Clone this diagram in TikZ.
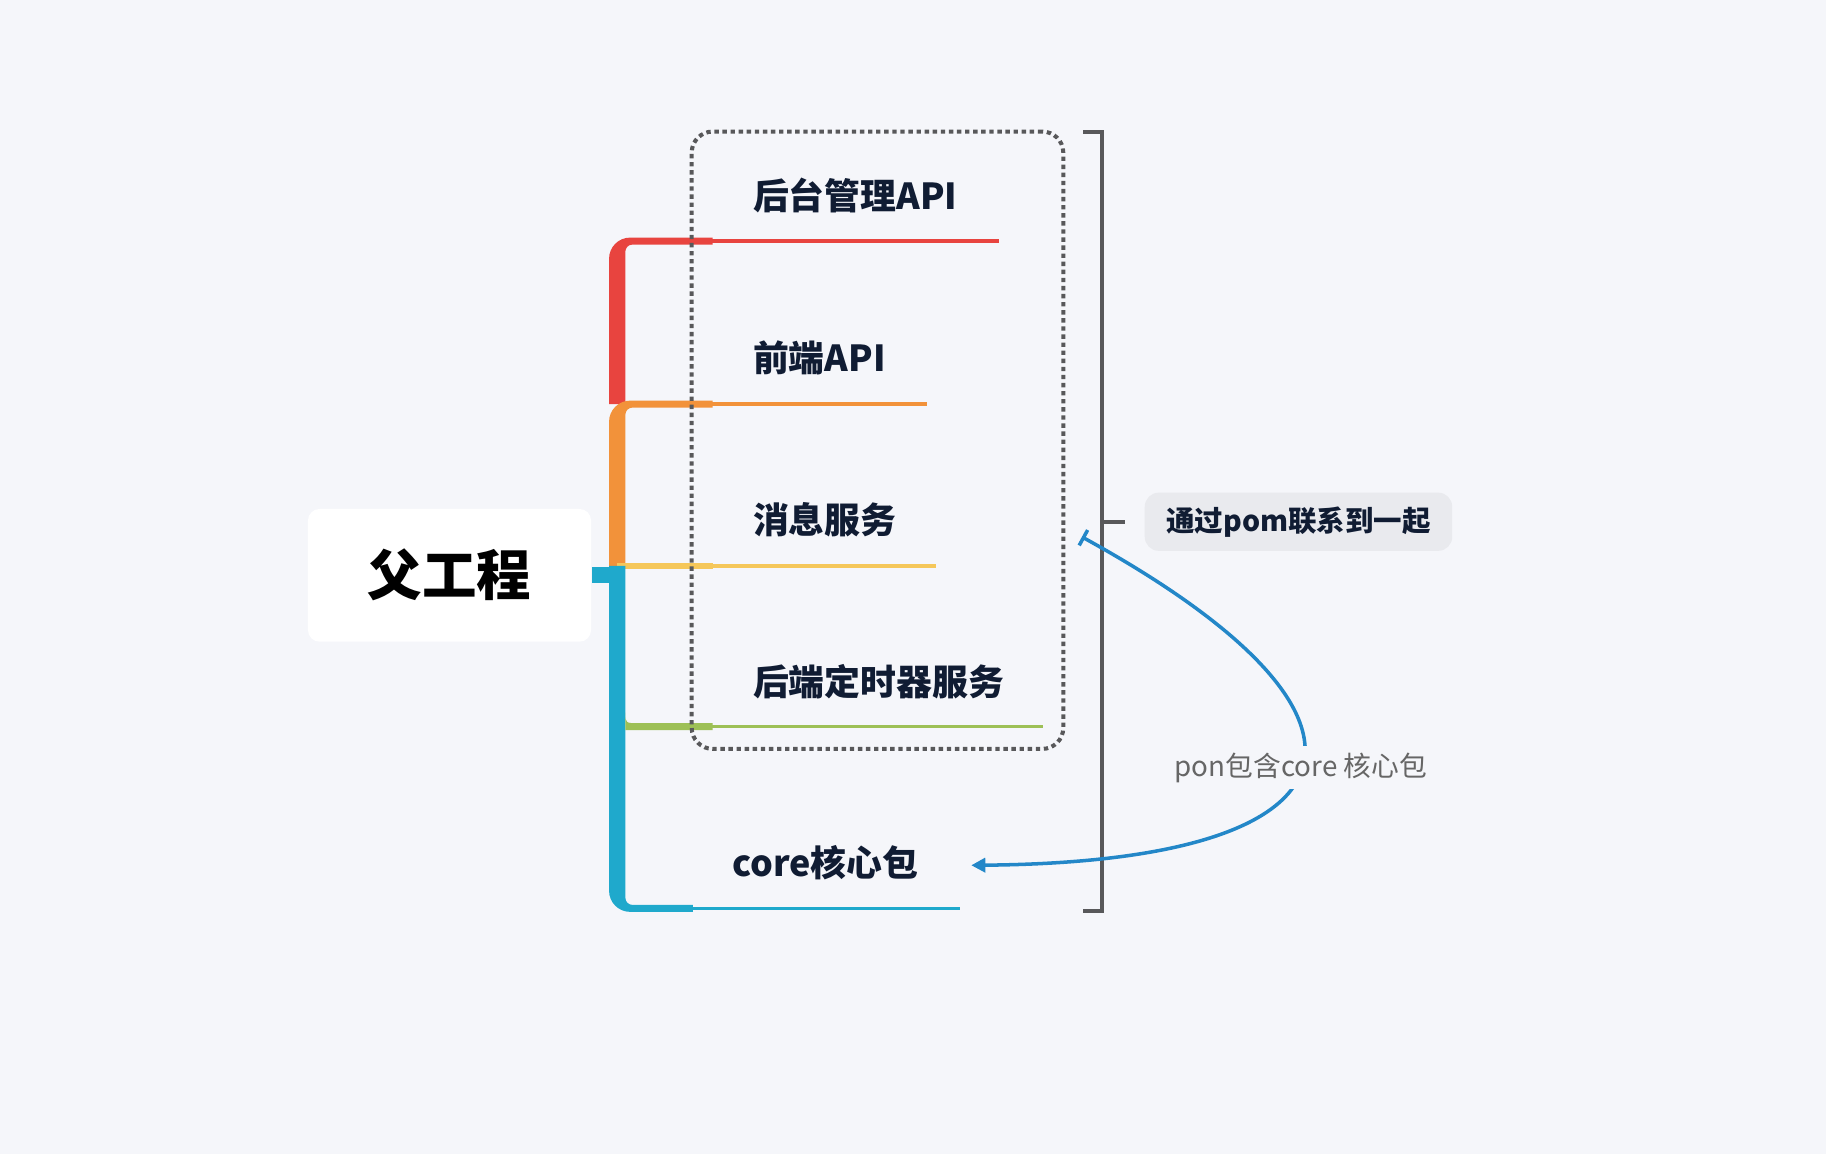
\documentclass[tikz,border=0pt]{standalone}
\usepackage{fontspec}
\setmainfont{Noto Sans CJK SC}
\usetikzlibrary{arrows.meta}

\definecolor{bg}{HTML}{F5F6FA}
\definecolor{ink}{HTML}{101C33}
\definecolor{cred}{HTML}{E8443F}
\definecolor{corange}{HTML}{F2923A}
\definecolor{cyellow}{HTML}{F5C75A}
\definecolor{cgreen}{HTML}{9DC056}
\definecolor{cblue}{HTML}{1FA9CC}
\definecolor{grayline}{HTML}{58585A}
\definecolor{sumfill}{HTML}{E9EAEE}
\definecolor{relblue}{HTML}{2387C8}
\definecolor{relgray}{HTML}{666666}

\begin{document}
\begin{tikzpicture}[x=0.011645cm,y=-0.011645cm]
	\tikzstyle{root}=[fill=white,rounded corners=3.3pt,minimum width=2.83cm,minimum height=1.327cm,font=\bfseries\fontsize{15.5}{18}\selectfont,text=black]
	\tikzstyle{lbl}=[anchor=west,inner sep=0pt,font=\bfseries\fontsize{10.2}{12}\selectfont,text=ink]
	\tikzstyle{grp}=[draw=grayline,line width=1.15pt,dash pattern=on 1.25pt off 1.05pt,rounded corners=6pt,minimum width=3.715cm,minimum height=6.172cm]
	\tikzstyle{brk}=[draw=grayline,line width=1.15pt]
	\tikzstyle{sum}=[fill=sumfill,rounded corners=4pt,minimum width=3.074cm,minimum height=0.582cm,font=\bfseries\fontsize{8.1}{10}\selectfont,text=ink]
	\tikzstyle{rel}=[draw=relblue,line width=1pt,{Bar[width=5pt]}-{Triangle[length=4pt,width=4pt]}]
	\tikzstyle{relbl}=[fill=bg,inner sep=2pt,font=\fontsize{7.9}{9}\selectfont,text=relgray]

	\fill[bg] (0,0) rectangle (1568,991);
	\useasboundingbox (0,0) rectangle (1568,991);

	% root topic
	\node[root] (root) at (386,494) {父工程};

	% trunk
	\fill[cblue] (root.east) ++(0,-7) rectangle (530,501);
	\fill[cred] (523,347) [rounded corners=6pt] -- (523,204) [sharp corners] -- (612,204) -- (612,210) [rounded corners=2pt] -- (537,210) [sharp corners] -- (537,347) -- cycle;
	\fill[corange] (523,486) [rounded corners=6pt] -- (523,344) [sharp corners] -- (612,344) -- (612,350) [rounded corners=2pt] -- (537,350) [sharp corners] -- (537,486) -- cycle;
	\fill[cyellow] (530,483) rectangle (612,489);
	\fill[cblue] (537,486) -- (523,486) [rounded corners=6pt] -- (523,783) [sharp corners] -- (595,783) -- (595,777) [rounded corners=2pt] -- (537,777) [sharp corners] -- cycle;
	\fill[cgreen] (537,612) .. controls (537,621) .. (549,621) -- (612,621) -- (612,627) -- (537,627) -- cycle;

	\foreach \c/\y/\xe in {cred/207/858,corange/347/796,cyellow/486/804,cgreen/624/896}
	\draw [\c,line width=1pt] (610,\y) -- (\xe,\y);
	\draw [cblue,line width=1pt] (593,780) -- (824,780);

	% sub topics
	\node[lbl] (admin) at (646,168) {后台管理API};
	\node[lbl] (front) at (646,307) {前端API};
	\node[lbl] (msg) at (646,446) {消息服务};
	\node[lbl] (timer) at (646,585) {后端定时器服务};
	\node[lbl] (core) at (628,741) {core核心包};

	% boundary and summary
	\node[grp] (grp) at (753.5,378) {};
	\draw[brk] (930,113) -- (946,113) -- (946,782) -- (930,782);
	\node[sum] (sum) at (1115,448) {通过pom联系到一起};
	\coordinate (brkmid) at (946,448);
	\draw[brk] (brkmid) -- ++(20,0);

	% relationship
	\coordinate (pomtail) at (929,461);
	\coordinate (corehead) at (834,743);
	\draw[rel] (pomtail) .. controls (1211,616) and (1180,740) .. (corehead)
		node[pos=0.5,relbl] (rlab) {pon包含core 核心包};
\end{tikzpicture}
\end{document}
